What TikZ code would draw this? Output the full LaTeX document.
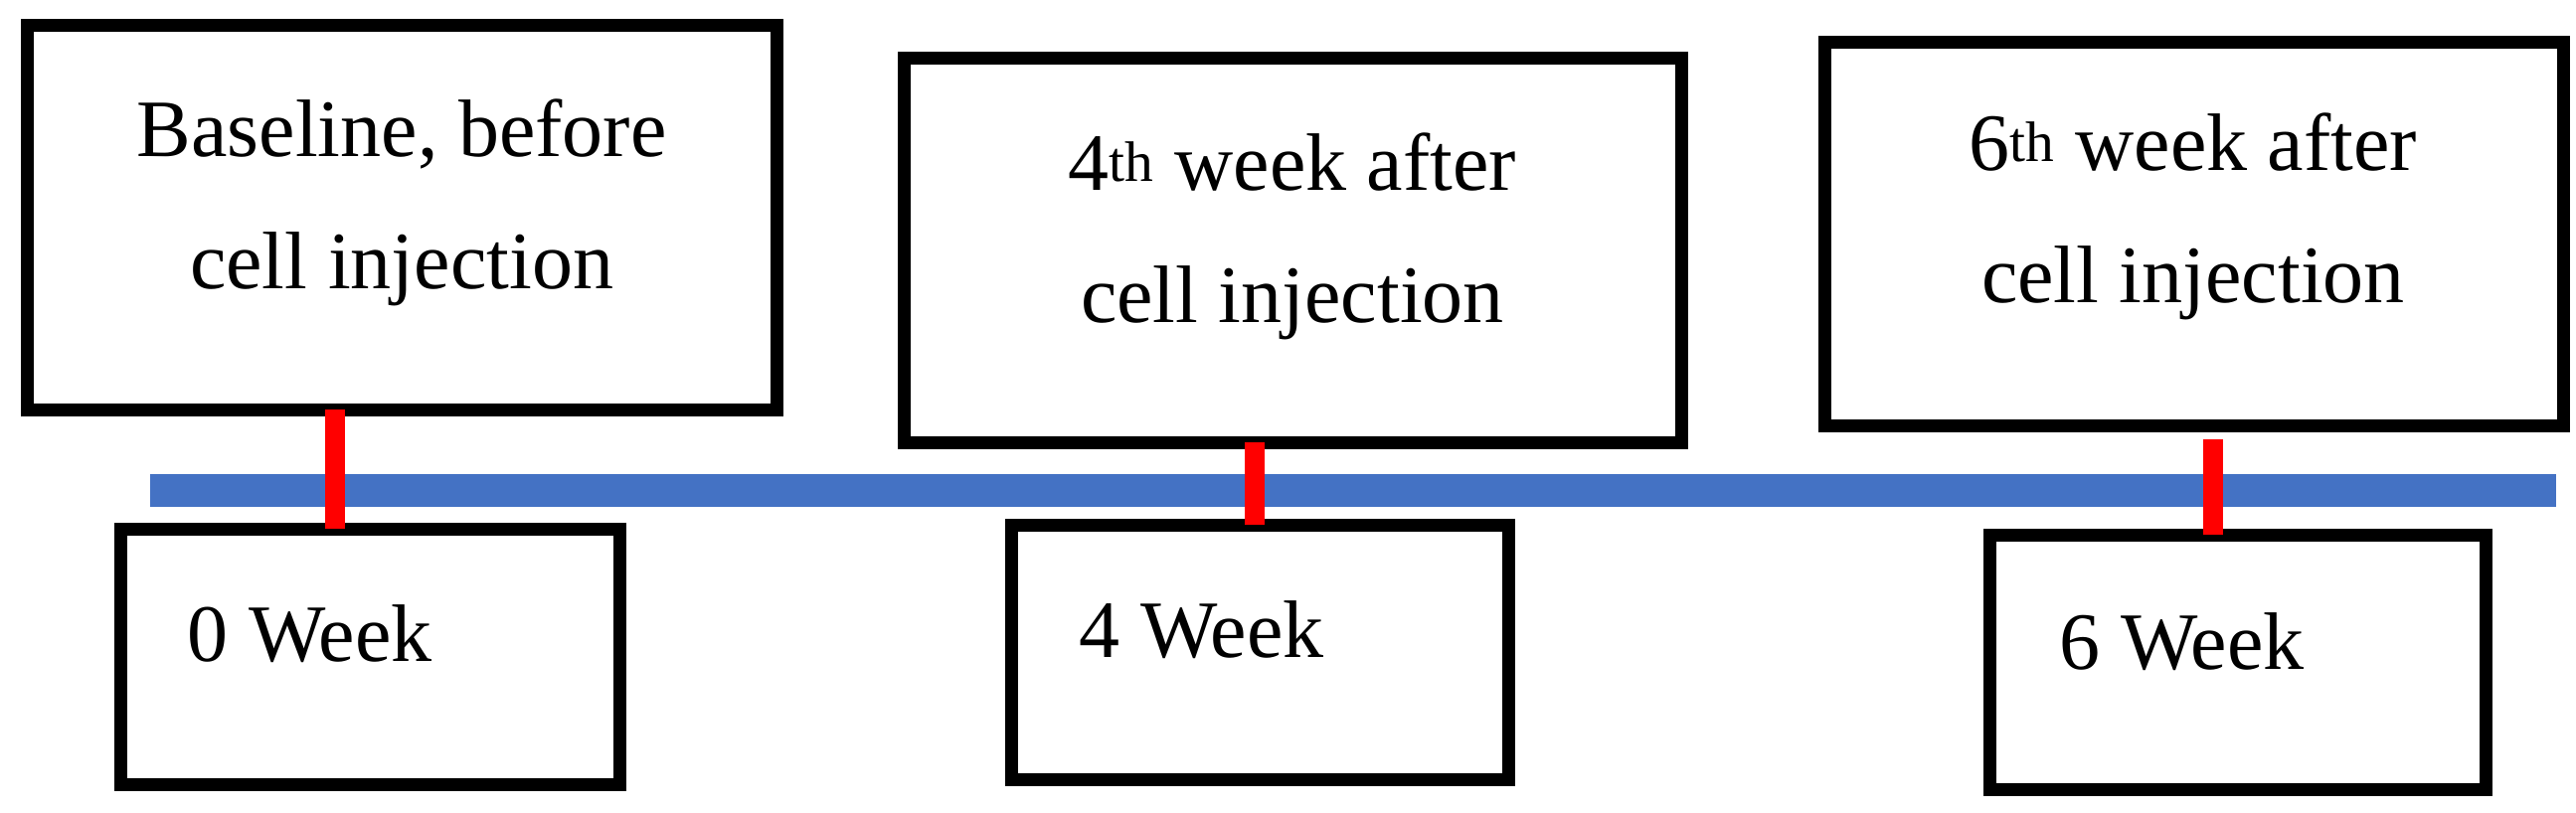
\documentclass[tikz,border=0pt]{standalone}
\usepackage{fontspec}
\setmainfont{Liberation Serif}
\begin{document}
\begin{tikzpicture}[x=1pt,y=-1pt,
  box/.style={draw=black,line width=13pt,align=center,inner sep=0pt},
  lbl/.style={font=\fontsize{82}{133}\selectfont,align=center},
  tick/.style={draw=red,line width=20pt},
  axis/.style={draw={rgb,255:red,68;green,114;blue,196},line width=33pt}]
\useasboundingbox (0,0) rectangle (2591,817);
\draw[axis] (151,493) coordinate (L) -- (2571,493) coordinate (R);
% top boxes
\draw[box] (27,25) rectangle (781,412);
\node[lbl] (t1) at (404,204) {Baseline, before\\cell injection};
\draw[box] (909,58) rectangle (1691,445);
\node[lbl] (t2) at (1300,238) {4\textsuperscript{th} week after\\cell injection};
\draw[box] (1835,42) rectangle (2578,428);
\node[lbl] (t3) at (2206,218) {6\textsuperscript{th} week after\\cell injection};
% bottom boxes
\draw[box] (121,532) rectangle (623,789);
\node[lbl,anchor=west] (b1) at (185,638) {0 Week};
\draw[box] (1017,528) rectangle (1517,784);
\node[lbl,anchor=west] (b2) at (1082,634) {4 Week};
\draw[box] (2001,538) rectangle (2500,794);
\node[lbl,anchor=west] (b3) at (2068,646) {6 Week};
% ticks
\coordinate (a1) at (337,412); \coordinate (a2) at (337,532);
\coordinate (c1) at (1262,445); \coordinate (c2) at (1262,528);
\coordinate (d1) at (2226,442); \coordinate (d2) at (2226,538);
\draw[tick] (a1) -- (a2);
\draw[tick] (c1) -- (c2);
\draw[tick] (d1) -- (d2);
\end{tikzpicture}
\end{document}
